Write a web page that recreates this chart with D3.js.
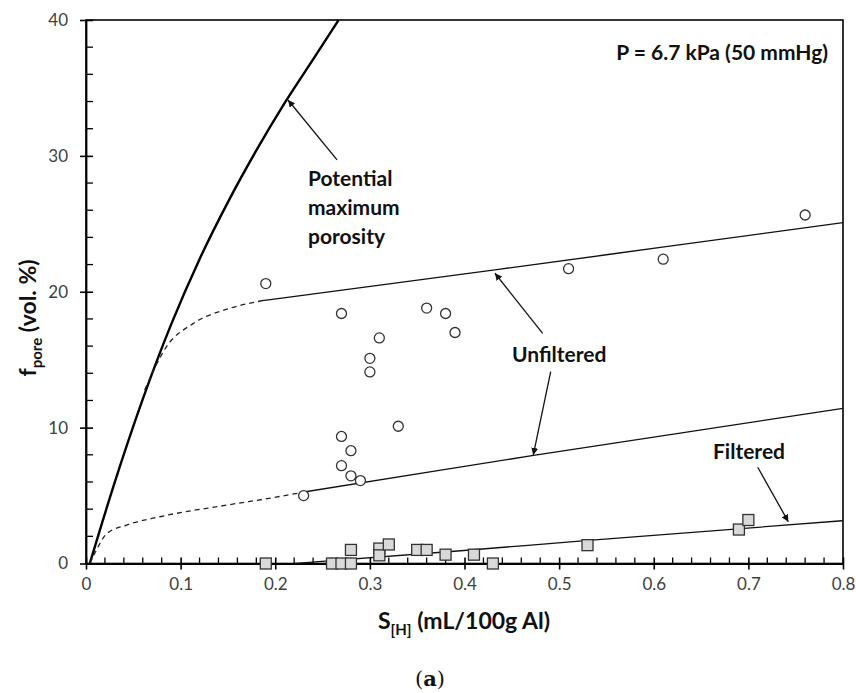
<!DOCTYPE html>
<html>
<head>
<meta charset="utf-8">
<script src="https://cdn.jsdelivr.net/npm/d3@7"></script>
<style>
  body { margin: 0; background: white; }
  text { font-family: Lato, "Open Sans", sans-serif; }
</style>
</head>
<body>
<svg></svg>
<script>
const width = 856;
const height = 693;

// data
const unfiltered = [
  [0.19, 20.6], [0.27, 18.4], [0.31, 16.6], [0.30, 15.1], [0.30, 14.1],
  [0.36, 18.8], [0.38, 18.4], [0.39, 17.0], [0.33, 10.1], [0.27, 9.35],
  [0.28, 8.3], [0.27, 7.2], [0.28, 6.45], [0.29, 6.1], [0.23, 5.0],
  [0.51, 21.7], [0.61, 22.4], [0.76, 25.65]
];
const filtered = [
  [0.19, 0], [0.26, 0], [0.27, 0], [0.28, 0], [0.28, 1.0], [0.31, 1.1],
  [0.31, 0.6], [0.32, 1.4], [0.35, 1.0], [0.36, 1.0], [0.38, 0.65],
  [0.41, 0.65], [0.43, 0], [0.53, 1.35], [0.69, 2.5], [0.70, 3.2]
];
const maxPorosity = [
  [0.004, 0], [0.03, 5.9], [0.06, 12.1], [0.09, 17.6], [0.12, 22.4],
  [0.15, 26.6], [0.18, 30.4], [0.21, 33.9], [0.24, 37.1], [0.267, 40]
];
const unfUpperDash = [[0.062, 12.77], [0.085, 15.95], [0.1135, 17.67], [0.152, 18.78], [0.186, 19.34]];
const unfUpperFit = [[0.186, 19.34], [0.438, 21.67], [0.611, 23.3], [0.8, 25.08]];
const unfLowerDash = [
  [0.004, 0], [0.011, 1.0], [0.022, 2.2], [0.043, 2.83], [0.078, 3.44],
  [0.149, 4.3], [0.202, 4.9], [0.232, 5.28]
];
const unfLowerFit = [[0.232, 5.28], [0.375, 6.88], [0.473, 7.95], [0.8, 11.42]];
const filteredFit = [[0.221, 0], [0.396, 0.94], [0.531, 1.7], [0.8, 3.15]];

const xTicks = [0, 0.1, 0.2, 0.3, 0.4, 0.5, 0.6, 0.7, 0.8];
const yTicks = [0, 10, 20, 30, 40];

// annotation arrows as [tail, head] in data units
const arrows = [
  [[0.2653, 29.7], [0.2135, 34.11]],
  [[0.4826, 16.94], [0.4322, 21.36]],
  [[0.4911, 14.12], [0.4727, 7.99]],
  [[0.7099, 7.08], [0.7422, 3.08]]
];

const svg = d3.select("svg")
  .attr("width", width)
  .attr("height", height);

const x = d3.scaleLinear().domain([0, 0.8]).range([86, 843]);
const y = d3.scaleLinear().domain([0, 40]).range([563.5, 20]);

svg.append("defs").append("marker")
  .attr("id", "head")
  .attr("viewBox", "0 0 10 10")
  .attr("refX", 10).attr("refY", 5)
  .attr("markerWidth", 7).attr("markerHeight", 7)
  .attr("markerUnits", "userSpaceOnUse")
  .attr("orient", "auto")
  .append("path")
  .attr("d", "M0,0L10,5L0,10z")
  .attr("fill", "#111");

// frame
svg.append("rect")
  .attr("x", x(0)).attr("y", y(40))
  .attr("width", x(0.8) - x(0)).attr("height", y(0) - y(40))
  .attr("fill", "none")
  .attr("stroke", "#000")
  .attr("stroke-width", 1.6);

// minor ticks
const xMinor = d3.range(1, 40).map(i => i * 0.02).filter(v => Math.abs(v * 10 - Math.round(v * 10)) > 1e-6);
svg.append("g").selectAll("line")
  .data(xMinor).enter().append("line")
  .attr("x1", d => x(d)).attr("x2", d => x(d))
  .attr("y1", y(0)).attr("y2", y(0) - 6)
  .attr("stroke", "#000").attr("stroke-width", 1.3);

const yMinor = d3.range(1, 20).map(i => i * 2).filter(v => v % 10 !== 0);
svg.append("g").selectAll("line")
  .data(yMinor).enter().append("line")
  .attr("x1", x(0)).attr("x2", x(0) + 7)
  .attr("y1", d => y(d)).attr("y2", d => y(d))
  .attr("stroke", "#000").attr("stroke-width", 1.3);

// axes
const xAxis = svg.append("g")
  .attr("transform", `translate(0,${y(0)})`)
  .call(d3.axisBottom(x).tickValues(xTicks).tickSizeInner(6).tickSizeOuter(0)
    .tickFormat(d => d === 0 ? "0" : d3.format(".1f")(d)));
xAxis.select(".domain").attr("stroke-width", 1.8);
xAxis.selectAll(".tick line").attr("y1", -6).attr("y2", 6).attr("stroke-width", 1.6);
xAxis.selectAll(".tick text")
  .attr("y", 14)
  .attr("font-size", 17).attr("fill", "#404040")
  .style("font-family", "Lato, sans-serif");

const yAxis = svg.append("g")
  .attr("transform", `translate(${x(0)},0)`)
  .call(d3.axisLeft(y).tickValues(yTicks).tickSizeInner(6).tickSizeOuter(0));
yAxis.select(".domain").attr("stroke-width", 1.8);
yAxis.selectAll(".tick line").attr("x1", -6).attr("x2", 7).attr("stroke-width", 1.6);
yAxis.selectAll(".tick text")
  .attr("x", -18)
  .attr("font-size", 17).attr("fill", "#404040")
  .style("font-family", "Lato, sans-serif");

// curves
const line = d3.line().x(d => x(d[0])).y(d => y(d[1])).curve(d3.curveMonotoneX);

svg.append("path").datum(maxPorosity)
  .attr("d", line).attr("fill", "none")
  .attr("stroke", "#000").attr("stroke-width", 2.4);

[unfUpperDash, unfLowerDash].forEach(pts => {
  svg.append("path").datum(pts)
    .attr("d", line).attr("fill", "none")
    .attr("stroke", "#222").attr("stroke-width", 1.3)
    .attr("stroke-dasharray", "5,4");
});

[unfUpperFit, unfLowerFit, filteredFit].forEach(pts => {
  svg.append("path").datum(pts)
    .attr("d", line).attr("fill", "none")
    .attr("stroke", "#111").attr("stroke-width", 1.3);
});

// markers
svg.append("g").selectAll("circle")
  .data(unfiltered).enter().append("circle")
  .attr("cx", d => x(d[0])).attr("cy", d => y(d[1]))
  .attr("r", 5)
  .attr("fill", "white")
  .attr("stroke", "#333").attr("stroke-width", 1.3);

svg.append("g").selectAll("rect")
  .data(filtered).enter().append("rect")
  .attr("x", d => x(d[0]) - 5.5).attr("y", d => y(d[1]) - 5.5)
  .attr("width", 11).attr("height", 11)
  .attr("fill", "#d9d9d9")
  .attr("stroke", "#333").attr("stroke-width", 1.3);

// arrows
svg.append("g").selectAll("line")
  .data(arrows).enter().append("line")
  .attr("x1", d => x(d[0][0])).attr("y1", d => y(d[0][1]))
  .attr("x2", d => x(d[1][0])).attr("y2", d => y(d[1][1]))
  .attr("stroke", "#111").attr("stroke-width", 1.3)
  .attr("marker-end", "url(#head)");

// annotation text
const note = (tx, ty, str, anchor) => svg.append("text")
  .attr("x", tx).attr("y", ty)
  .attr("text-anchor", anchor || "start")
  .attr("font-size", 21).attr("font-weight", 700)
  .attr("fill", "#111")
  .text(str);

note(828, 60, "P = 6.7 kPa (50 mmHg)", "end");
note(308, 186, "Potential");
note(308, 215, "maximum");
note(308, 244, "porosity");
note(512, 362, "Unfiltered");
note(713, 459, "Filtered");

// axis titles
const xTitle = svg.append("text")
  .attr("x", 464).attr("y", 629)
  .attr("text-anchor", "middle")
  .attr("font-size", 23).attr("font-weight", 700)
  .attr("fill", "#111");
xTitle.append("tspan").text("S");
xTitle.append("tspan").attr("font-size", 15).attr("dy", 6).text("[H]");
xTitle.append("tspan").attr("dy", -6).text(" (mL/100g Al)");

const yTitle = svg.append("text")
  .attr("transform", "translate(36,318) rotate(-90)")
  .attr("text-anchor", "middle")
  .attr("font-size", 23).attr("font-weight", 700)
  .attr("fill", "#111");
yTitle.append("tspan").text("f");
yTitle.append("tspan").attr("font-size", 15).attr("dy", 6).text("pore");
yTitle.append("tspan").attr("dy", -6).text(" (vol. %)");

const caption = svg.append("text")
  .attr("x", 430).attr("y", 686)
  .attr("text-anchor", "middle")
  .attr("font-size", 21)
  .style("font-family", '"DejaVu Serif", "Liberation Serif", serif')
  .attr("fill", "#111");
caption.append("tspan").text("(");
caption.append("tspan").attr("font-weight", 700).text("a");
caption.append("tspan").text(")");
</script>
</body>
</html>
